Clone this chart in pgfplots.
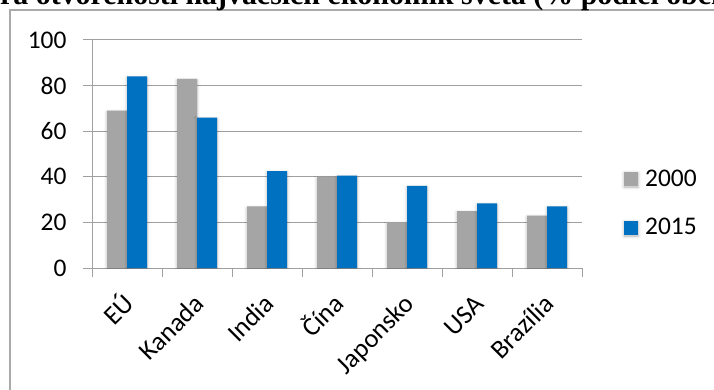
\documentclass[border=0pt]{standalone}
\usepackage{pgfplots}
\pgfplotsset{compat=1.18}
\usetikzlibrary{shadows.blur}
\usepackage{fontspec}
\setmainfont{Carlito}
\newfontfamily\titlefont{Liberation Serif}
\definecolor{gbar}{RGB}{165,165,165}
\definecolor{bbar}{RGB}{0,112,192}
\definecolor{gridc}{RGB}{160,160,160}
\definecolor{framec}{RGB}{170,170,170}
\begin{document}
\begin{tikzpicture}[x=1bp,y=1bp]
\useasboundingbox (0,0) rectangle (714,389);
\clip (0,0) rectangle (714,389);
\draw[framec, line width=1.5bp] (10,379) rectangle (740,-30);
\node[anchor=base west, inner sep=0pt, font=\titlefont\bfseries\fontsize{30}{36}\selectfont] at (0,385) {\llap{Mie}ra otvorenosti najväčších ekonomík sveta (\% podiel obchodu na HDP)};
\begin{axis}[
  at={(92bp,121bp)}, anchor=south west,
  scale only axis, width=490bp, height=228bp,
  xmin=-0.5, xmax=6.5, ymin=0, ymax=100,
  axis x line*=bottom, axis y line*=left,
  axis line style={-, gridc, line width=1bp},
  ytick={0,20,...,100},
  ymajorgrids, grid style={gridc, line width=1bp},
  xtick={0,...,6},
  xticklabels={EÚ,Kanada,India,Čína,Japonsko,USA,Brazília},
  minor xtick={-0.5,0.5,...,6.5},
  tick align=outside,
  major tick length=9bp, minor tick length=9bp,
  major x tick style={draw=none},
  minor x tick style={gridc, line width=1bp},
  major y tick style={gridc, line width=1bp},
  /pgf/number format/assume math mode=true,
  tick label style={font=\fontsize{25.5}{30}\selectfont},
  xticklabel style={font=\fontsize{26.5}{30}\selectfont, rotate=45, anchor=east, inner sep=0pt, text height=18bp, text depth=5bp, xshift=-14bp, yshift=-20bp},
  yticklabel style={xshift=-13bp},
  ybar=0pt, bar width=20bp,
  legend image code/.code={\fill[#1] (0bp,-7bp) rectangle (14bp,7bp);},
  legend style={draw=none, fill=none, at={(1.0857,0.285)}, anchor=west, row sep=27bp, column sep=5bp, inner sep=0pt, font=\fontsize{25.5}{30}\selectfont},
  legend cell align=left,
]
\addplot[fill=gbar, draw=none, blur shadow={shadow xshift=0bp, shadow yshift=-1.5bp, shadow blur radius=3bp, shadow opacity=30}] coordinates {(0,69) (1,83) (2,27) (3,40) (4,20) (5,25) (6,23)};
\addplot[fill=bbar, draw=none, blur shadow={shadow xshift=0bp, shadow yshift=-1.5bp, shadow blur radius=3bp, shadow opacity=30}] coordinates {(0,84) (1,66) (2,42.5) (3,40.5) (4,36) (5,28.3) (6,27)};
\legend{2000,2015}
\end{axis}
\end{tikzpicture}
\end{document}
